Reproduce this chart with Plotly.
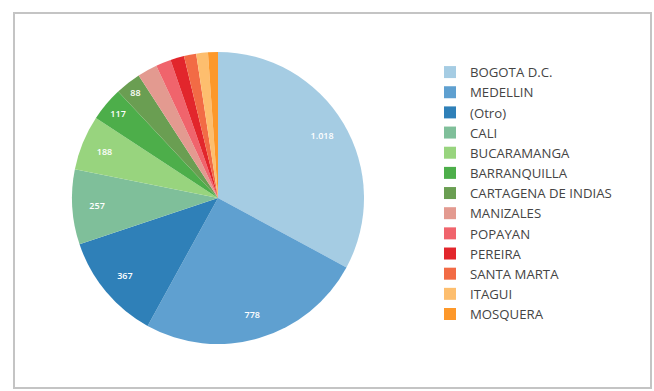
import plotly.graph_objects as go

W, H = 654, 391

cities = ["BOGOTA D.C.", "MEDELLIN", "(Otro)", "CALI", "BUCARAMANGA", "BARRANQUILLA",
          "CARTAGENA DE INDIAS", "MANIZALES", "POPAYAN", "PEREIRA", "SANTA MARTA",
          "ITAGUI", "MOSQUERA"]
counts = [1018, 778, 367, 257, 188, 117, 88, 68, 52, 47, 42, 40, 34]
colors = ["#a5cce3", "#5fa0d0", "#2f80b8", "#7fbf9a", "#98d47e", "#4dae4a",
          "#6a9e52", "#e39a90", "#f0646c", "#e2262c", "#f26b45", "#fdbe6e", "#fd982a"]
label_min = 80

texts = [f"{v:,}".replace(",", ".") if v >= label_min else "" for v in counts]

cx, cy, r = 218, 198, 146
dom = dict(x=[(cx - r) / W, (cx + r) / W], y=[1 - (cy + r) / H, 1 - (cy - r) / H])

fig = go.Figure()
# coloured slices
fig.add_trace(go.Pie(
    labels=cities, values=counts, textinfo="none",
    sort=False, direction="clockwise", rotation=0,
    marker=dict(colors=colors, line=dict(width=0)),
    domain=dom,
))
# transparent ring carrying the value labels near the rim
fig.add_trace(go.Pie(
    labels=cities, values=counts, text=texts, textinfo="text",
    sort=False, direction="clockwise", rotation=0, hole=0.66,
    marker=dict(colors=["rgba(0,0,0,0)"] * len(counts), line=dict(width=0)),
    textfont=dict(family="Open Sans", size=9, color="white", weight=600),
    insidetextorientation="horizontal", textposition="inside",
    showlegend=False, hoverinfo="skip",
    domain=dom,
))

fig.update_layout(
    width=W, height=H,
    margin=dict(l=0, r=0, t=0, b=0),
    paper_bgcolor="white",
    plot_bgcolor="white",
    font=dict(family="Open Sans", size=12, color="#444444"),
    legend=dict(x=430 / W, y=1 - 57 / H, xanchor="left", yanchor="top",
                font=dict(family="Open Sans", size=13.2, color="#444444"),
                bgcolor="rgba(0,0,0,0)"),
    shapes=[
        dict(type="rect", xref="paper", yref="paper",
             x0=14 / W, x1=651 / W, y0=1 - 388 / H, y1=1 - 13 / H,
             line=dict(color="#c4c4c4", width=2), layer="below"),
    ],
)

fig.write_html("out.html")
